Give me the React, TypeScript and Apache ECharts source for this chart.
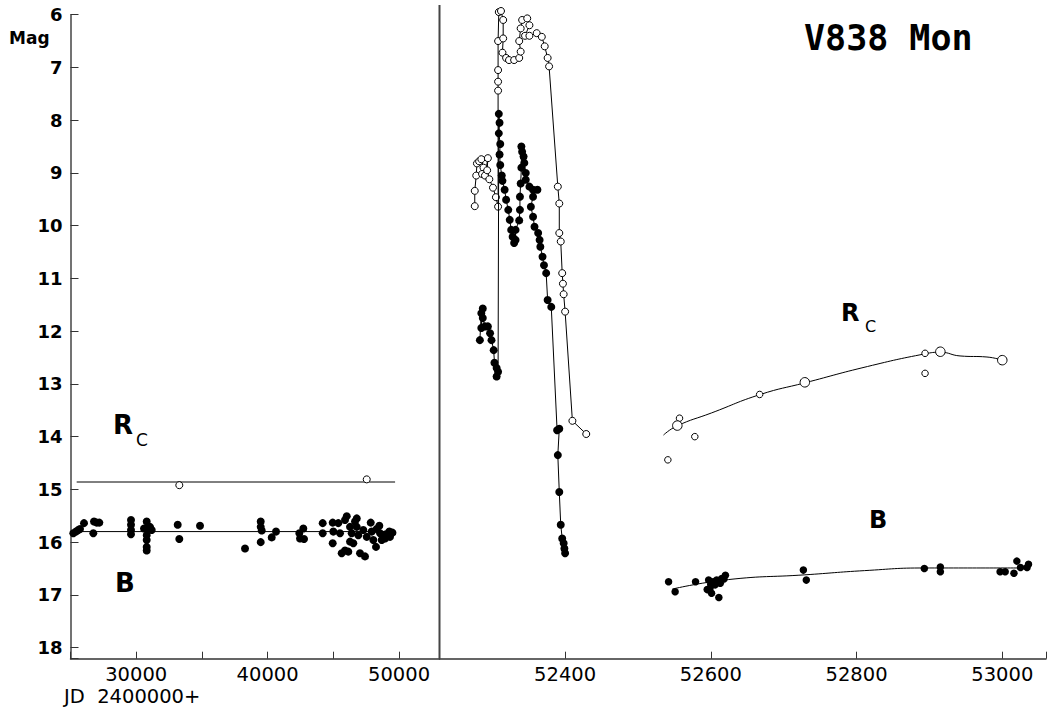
import React, { useEffect, useRef } from 'react';
import * as echarts from 'echarts';

// ---------- data ----------
const yMin = 6;
const yMax = 18.21;
const yTickLabels = [6, 7, 8, 9, 10, 11, 12, 13, 14, 15, 16, 17, 18];
const leftTickLabels = [30000, 40000, 50000];
const rightTickLabels = [52400, 52600, 52800, 53000];

// Historic (pre-outburst) photographic magnitudes
const bHistoric: [number, number][] = [
  [25213, 15.83], [25418, 15.8], [25594, 15.77], [25723, 15.75], [26027, 15.64], [26735, 15.83],
  [26788, 15.61], [26994, 15.63], [27192, 15.63],
  [29604, 15.58], [29604, 15.67], [29604, 15.77], [29604, 15.85],
  [30594, 15.74], [30799, 15.61], [30799, 15.74], [30799, 15.87], [30799, 15.96], [30799, 16.09],
  [30799, 16.16], [31050, 15.71], [31180, 15.77],
  [33158, 15.67], [33280, 15.94], [34855, 15.69], [38280, 16.12],
  [39475, 15.61], [39475, 15.71], [39551, 15.78], [39475, 16.0], [40312, 15.91], [40639, 15.8],
  [42412, 15.83], [42466, 15.93], [42717, 15.74], [42770, 15.94],
  [44193, 15.64], [44193, 15.83], [44954, 15.63], [45000, 15.8], [44954, 16.02],
  [45381, 15.64], [45510, 15.83], [45639, 16.21], [45890, 16.16], [46141, 16.18], [46020, 15.51],
  [45890, 15.58], [46271, 15.71], [46400, 15.83], [46271, 15.99], [46522, 16.02], [46651, 15.61],
  [46781, 15.71], [46903, 15.87], [46781, 15.55], [47032, 16.21], [47412, 16.27], [47283, 15.77],
  [47542, 15.9], [47846, 15.63], [47922, 15.8], [48044, 15.96], [48250, 16.09], [48300, 15.75],
  [48501, 15.69], [48554, 15.83], [48683, 15.96], [48935, 15.93], [49000, 15.85], [49262, 15.8],
  [49315, 15.9], [49500, 15.82],
];
const rcHistoric: [number, number][] = [[33280, 14.92], [47542, 14.81]];
const bHistoricMean: [number, number][] = [[25000, 15.8], [49750, 15.8]];
const rcHistoricMean: [number, number][] = [[25470, 14.86], [49700, 14.86]];

// 2002 outburst
const rcOutburst: [number, number][] = [
  [52276, 9.63], [52276, 9.34], [52278, 9.05], [52279, 8.82], [52282, 8.78], [52285, 8.74],
  [52288, 8.9], [52286, 9.02], [52290, 9.05], [52294, 8.72], [52293, 8.95], [52296, 9.12],
  [52301, 9.28], [52305, 9.46], [52308, 9.64], [52308, 7.44], [52308, 7.27], [52308, 7.05],
  [52308, 6.5], [52309, 5.95], [52312, 5.93], [52315, 6.1], [52315, 6.45], [52314, 6.72],
  [52319, 6.82], [52323, 6.86], [52330, 6.86], [52337, 6.82], [52339, 6.7], [52337, 6.5],
  [52339, 6.26], [52341, 6.1], [52348, 6.07], [52351, 6.2], [52345, 6.4], [52351, 6.4],
  [52361, 6.35], [52368, 6.42], [52372, 6.6], [52376, 6.82], [52378, 6.98],
  [52390, 9.26], [52392, 9.58], [52392, 10.14], [52394, 10.3], [52396, 10.9], [52397, 11.1],
  [52398, 11.3], [52400, 11.63], [52410, 13.7], [52429, 13.95],
];
const bOutburst: [number, number][] = [
  [52283, 12.17], [52285, 11.66], [52285, 11.94], [52287, 11.57], [52287, 11.75], [52290, 11.91],
  [52294, 11.91], [52297, 12.04], [52299, 12.17], [52302, 12.36], [52303, 12.6], [52306, 12.7],
  [52306, 12.86], [52308, 12.77],
  [52309, 7.88], [52310, 8.05], [52309, 8.25], [52311, 8.45], [52310, 8.65], [52311, 8.85],
  [52313, 9.05], [52314, 9.15], [52317, 9.32], [52319, 9.51], [52322, 9.7], [52324, 9.89],
  [52326, 10.08], [52328, 10.21], [52330, 10.33], [52332, 10.27], [52332, 10.08],
  [52337, 9.9], [52338, 9.7], [52338, 9.45], [52339, 9.2], [52340, 8.9], [52340, 8.5],
  [52341, 8.6], [52343, 8.69], [52344, 8.81], [52346, 9.0], [52346, 9.13], [52351, 9.26],
  [52356, 9.32], [52362, 9.32], [52356, 9.45], [52353, 9.64], [52356, 9.83], [52358, 10.02],
  [52363, 10.14], [52365, 10.27], [52366, 10.4], [52369, 10.59], [52371, 10.75], [52374, 10.9],
  [52376, 11.41], [52381, 11.54], [52389, 13.88], [52392, 13.85], [52390, 14.35], [52392, 15.05],
  [52394, 15.67], [52396, 15.93], [52398, 16.02], [52399, 16.12], [52400, 16.21],
];

// late-time (2002-2004)
const rcLateSmall: [number, number][] = [
  [52541, 14.44], [52557, 13.65], [52578, 14.0], [52667, 13.2], [52894, 12.42], [52894, 12.8],
];
const rcLateLarge: [number, number][] = [[52554, 13.79], [52729, 12.97], [52915, 12.39], [53000, 12.55]];
const rcLateFit: [number, number][] = [
  [52535, 13.97], [52553, 13.8], [52601, 13.55], [52668, 13.2], [52729, 12.98], [52815, 12.67],
  [52894, 12.43], [52915, 12.4], [52942, 12.47], [52979, 12.49], [53000, 12.55],
];
const bLate: [number, number][] = [
  [52542, 16.75], [52551, 16.94], [52579, 16.75], [52595, 16.9], [52597, 16.72], [52599, 16.87],
  [52600, 16.8], [52601, 16.97], [52603, 16.75], [52606, 16.81], [52608, 16.72], [52611, 17.05],
  [52613, 16.78], [52615, 16.69], [52618, 16.7], [52620, 16.63],
  [52727, 16.53], [52731, 16.72], [52893, 16.5], [52915, 16.47], [52915, 16.56],
  [52997, 16.56], [53004, 16.56], [53016, 16.59], [53020, 16.36], [53025, 16.48], [53034, 16.48],
  [53036, 16.42],
];
const bLateFit: [number, number][] = [
  [52547, 16.89], [52624, 16.71], [52729, 16.62], [52811, 16.54], [52893, 16.49], [53038, 16.49],
];

// ---------- styles ----------
const FONT = 'DejaVu Sans';
const AX = '#333';

const filled = (data: [number, number][], xi: number, size: number) => ({
  type: 'scatter', xAxisIndex: xi, yAxisIndex: xi, data, symbol: 'circle', symbolSize: size,
  itemStyle: { color: '#000', opacity: 1 }, z: 5, silent: true,
});
const open = (data: [number, number][], xi: number, size: number) => ({
  type: 'scatter', xAxisIndex: xi, yAxisIndex: xi, data, symbol: 'circle', symbolSize: size,
  itemStyle: { color: '#fff', borderColor: '#000', borderWidth: 1, opacity: 1 }, z: 4, silent: true,
});
const plainLine = (data: [number, number][], xi: number, smooth = false) => ({
  type: 'line', xAxisIndex: xi, yAxisIndex: xi, data, showSymbol: false, symbol: 'none', smooth,
  lineStyle: { color: '#000', width: 1 }, z: 3, silent: true,
});

export default function App() {
  const ref = useRef<HTMLDivElement>(null);
  useEffect(() => {
    if (!ref.current) return;
    const chart = echarts.init(ref.current, null, { renderer: 'svg' });
    const yAxisBase = {
      type: 'value', min: yMin, max: yMax, inverse: true, interval: 1, splitLine: { show: false },
    };
    const option: any = {
      animation: false,
      backgroundColor: '#fff',
      grid: [
        { left: 70.5, top: 14.7, width: 369, height: 644 },
        { left: 439.5, top: 14.7, width: 609.5, height: 644 },
      ],
      xAxis: [
        {
          type: 'value', gridIndex: 0, min: 25000, max: 53080, interval: 5000,
          splitLine: { show: false },
          axisLine: { lineStyle: { color: AX, width: 1.5 } },
          axisTick: { inside: true, length: 7, lineStyle: { color: AX, width: 1 } },
          axisLabel: {
            margin: 6, fontFamily: FONT, fontSize: 19.5, color: '#000',
            formatter: (v: number) => (leftTickLabels.includes(v) ? String(v) : ''),
          },
        },
        {
          type: 'value', gridIndex: 1, min: 52227.6, max: 53060, splitNumber: 4,
          splitLine: { show: false },
          axisLine: { lineStyle: { color: AX, width: 1.5 } },
          axisTick: { inside: true, length: 7, lineStyle: { color: AX, width: 1 } },
          axisLabel: {
            margin: 6, fontFamily: FONT, fontSize: 19.5, color: '#000',
            formatter: (v: number) => (rightTickLabels.includes(v) ? String(v) : ''),
          },
        },
      ],
      yAxis: [
        {
          ...yAxisBase, gridIndex: 0,
          axisLine: { show: true, lineStyle: { color: '#444', width: 1.5 } },
          axisTick: { show: true, inside: true, length: 8, lineStyle: { color: AX, width: 1 } },
          axisLabel: {
            margin: 8, fontFamily: FONT, fontSize: 18, fontWeight: 'bold', color: '#000',
            formatter: (v: number) => (yTickLabels.includes(v) ? String(v) : ''),
          },
        },
        { ...yAxisBase, gridIndex: 1, show: false },
      ],
      graphic: [
        { type: 'line', shape: { x1: 439.5, y1: 5, x2: 439.5, y2: 658.7 }, style: { stroke: '#444', lineWidth: 2 }, z: 10 },
        { type: 'text', left: 9, top: 29, style: { text: 'Mag', font: 'bold 17px "DejaVu Sans"', fill: '#000' } },
        { type: 'text', left: 64, top: 686, style: { text: 'JD  2400000+', font: '19.5px "DejaVu Sans"', fill: '#000' } },
        { type: 'text', left: 804, top: 20, style: { text: 'V838 Mon', font: 'bold 35px "DejaVu Sans Mono"', fill: '#000' } },
        { type: 'text', left: 113, top: 412, style: { text: 'R', font: 'bold 26px "DejaVu Sans"', fill: '#000' } },
        { type: 'text', left: 136, top: 431, style: { text: 'C', font: '17px "DejaVu Sans"', fill: '#000' } },
        { type: 'text', left: 115, top: 570, style: { text: 'B', font: 'bold 26px "DejaVu Sans"', fill: '#000' } },
        { type: 'text', left: 841, top: 301, style: { text: 'R', font: 'bold 24px "DejaVu Sans"', fill: '#000' } },
        { type: 'text', left: 865, top: 318, style: { text: 'C', font: '16px "DejaVu Sans"', fill: '#000' } },
        { type: 'text', left: 869, top: 508, style: { text: 'B', font: 'bold 24px "DejaVu Sans"', fill: '#000' } },
      ],
      series: [
        plainLine(rcHistoricMean, 0),
        plainLine(bHistoricMean, 0),
        open(rcHistoric, 0, 7),
        filled(bHistoric, 0, 8),
        {
          type: 'line', xAxisIndex: 1, yAxisIndex: 1, data: rcOutburst, clip: false,
          symbol: 'circle', symbolSize: 7, showSymbol: true,
          itemStyle: { color: '#fff', borderColor: '#000', borderWidth: 1 },
          lineStyle: { color: '#000', width: 1 }, z: 3, silent: true,
        },
        {
          type: 'line', xAxisIndex: 1, yAxisIndex: 1, data: bOutburst, clip: false,
          symbol: 'circle', symbolSize: 8, showSymbol: true,
          itemStyle: { color: '#000', borderColor: '#000', borderWidth: 0 },
          lineStyle: { color: '#000', width: 1 }, z: 4, silent: true,
        },
        plainLine(rcLateFit, 1, true),
        plainLine(bLateFit, 1, true),
        open(rcLateSmall, 1, 6.5),
        open(rcLateLarge, 1, 9.5),
        filled(bLate, 1, 7.5),
      ],
    };
    chart.setOption(option);
    return () => chart.dispose();
  }, []);
  return (
    <div
      ref={ref}
      style={{ position: 'fixed', left: 0, top: 0, width: 1049, height: 707, background: '#fff' }}
    />
  );
}
